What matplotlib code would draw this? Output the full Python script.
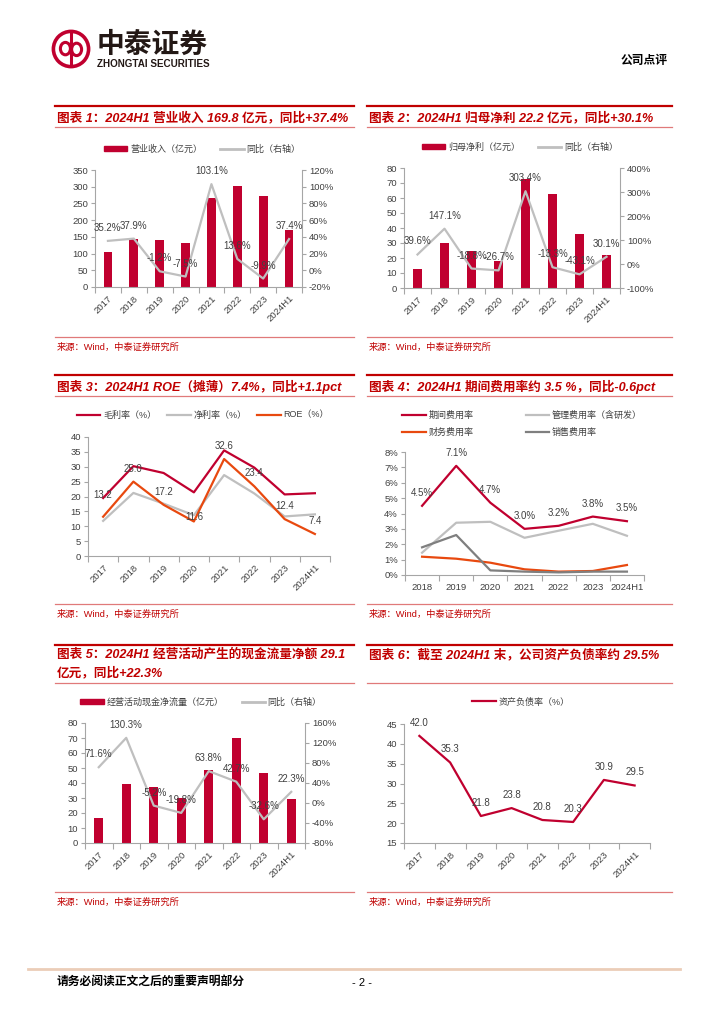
import numpy as np
import matplotlib
matplotlib.use("Agg")
import matplotlib.pyplot as plt
from matplotlib.lines import Line2D
from matplotlib.patches import Circle, Ellipse, Patch
from matplotlib.ticker import FuncFormatter

plt.rcParams["font.family"] = ["Liberation Sans", "Noto Sans CJK SC", "DejaVu Sans"]
plt.rcParams["axes.unicode_minus"] = False

W, H = 724, 1024
RED = "#C0002F"
TITLE_RED = "#C00000"
RULE_PINK = "#E07A7A"
GRAY = "#BFBFBF"
DARK_GRAY = "#7F7F7F"
ORANGE = "#E8490F"
AXIS = "#A6A6A6"
TEXT = "#404040"

# ---- data ----
years8 = ["2017", "2018", "2019", "2020", "2021", "2022", "2023", "2024H1"]
years7 = ["2018", "2019", "2020", "2021", "2022", "2023", "2024H1"]

revenue = [104, 143, 141, 131, 267, 302, 272, 169.8]
revenue_yoy = [35.2, 37.9, -1.2, -7.5, 103.1, 13.6, -9.9, 37.4]

profit = [12.4, 30.2, 24.6, 18.0, 72.6, 62.8, 35.8, 22.2]
profit_yoy = [39.6, 147.1, -18.8, -26.7, 303.4, -13.3, -43.1, 30.1]

gross_margin = [19.5, 30.2, 27.9, 21.4, 35.5, 29.7, 20.7, 21.1]
net_margin = [11.8, 21.2, 17.6, 13.7, 27.2, 21.0, 13.3, 14.0]
roe = [13.2, 25.0, 17.2, 11.6, 32.6, 23.4, 12.4, 7.4]

period_exp = [4.5, 7.1, 4.7, 3.0, 3.2, 3.8, 3.5]
admin_exp = [1.45, 3.4, 3.46, 2.42, 2.88, 3.33, 2.55]
fin_exp = [1.19, 1.06, 0.8, 0.37, 0.22, 0.26, 0.65]
sales_exp = [1.8, 2.6, 0.3, 0.22, 0.17, 0.22, 0.22]

ocf = [17.0, 39.3, 37.3, 30.0, 48.8, 70.0, 47.0, 29.1]
ocf_yoy = [71.6, 130.3, -5.2, -19.8, 63.8, 42.7, -32.6, 22.3]

debt_ratio = [42.0, 35.3, 21.8, 23.8, 20.8, 20.3, 30.9, 29.5]

fig = plt.figure(figsize=(W / 100, H / 100), dpi=100)


def fx(x):
    return x / W


def fy(y):
    return 1 - y / H


def hline(x0, x1, y, color, lw):
    fig.add_artist(Line2D([fx(x0), fx(x1)], [fy(y), fy(y)],
                          transform=fig.transFigure, color=color, lw=lw))


def text(x, y, s, **kw):
    kw.setdefault("va", "center")
    fig.text(fx(x), fy(y), s, **kw)


def add_axes(l, t, r, b):
    return fig.add_axes([fx(l), fy(b), (r - l) / W, (b - t) / H])


def frame(x0, x1, top, titles, bottom, src_y):
    hline(x0, x1, top, TITLE_RED, 1.6)
    for s, y in titles:
        text(x0 + 2, y, s, fontsize=9.1, fontweight="bold", style="italic",
             color=TITLE_RED)
    hline(x0, x1, bottom, RULE_PINK, 0.9)
    hline(x0, x1, src_y, RULE_PINK, 0.9)
    text(x0 + 2, src_y + 10, "来源：Wind，中泰证券研究所", fontsize=6.7,
         color=TITLE_RED)


def pct(v, p):
    return f"{v:.0f}%"


def style(ax, labels, rotate=True):
    for s in ["top", "right"]:
        ax.spines[s].set_visible(False)
    for s in ["left", "bottom"]:
        ax.spines[s].set_color(AXIS)
        ax.spines[s].set_linewidth(0.8)
    n = len(labels)
    ax.set_xlim(-0.5, n - 0.5)
    ax.set_xticks(range(n))
    if rotate:
        ax.set_xticklabels(labels, rotation=45, ha="right",
                           rotation_mode="anchor")
    else:
        ax.set_xticklabels(labels)
    ax.set_xticks(np.arange(-0.5, n), minor=True)
    ax.tick_params(axis="x", which="major", length=0, pad=5,
                   labelsize=6.8, labelcolor=TEXT)
    ax.tick_params(axis="x", which="minor", length=4, width=0.8, color=AXIS)
    ax.tick_params(axis="y", length=3, width=0.8, color=AXIS, labelsize=6.8,
                   labelcolor=TEXT, pad=2)


def twin_style(tw):
    for s in ["top", "left", "bottom"]:
        tw.spines[s].set_visible(False)
    tw.spines["right"].set_color(AXIS)
    tw.spines["right"].set_linewidth(0.8)
    tw.tick_params(axis="y", length=3, width=0.8, color=AXIS, labelsize=6.8,
                   labelcolor=TEXT, pad=2)
    tw.yaxis.set_major_formatter(FuncFormatter(pct))


def point_labels(ax, ys, texts, dys=None):
    if dys is None:
        dys = [13] * len(ys)
    for i, (y, s, d) in enumerate(zip(ys, texts, dys)):
        ax.annotate(s, (i, y), xytext=(0, d * 0.72), textcoords="offset points",
                    ha="center", va="center", fontsize=7, color=TEXT)


def legend(ax, handles, names, cx, cy, ncol, colsp=2.0, rowsp=0.5):
    ax.legend(handles, names, loc="center", bbox_to_anchor=(fx(cx), fy(cy)),
              bbox_transform=fig.transFigure, ncol=ncol, frameon=False,
              fontsize=6.5, handlelength=2.6, handleheight=0.6,
              handletextpad=0.3, columnspacing=colsp, labelspacing=rowsp,
              borderpad=0, labelcolor=TEXT)


def bar_line(box, bars, yoy, blim, bstep, ylim, ystep, bname, lname, leg):
    ax = add_axes(*box)
    x = np.arange(len(bars))
    ax.bar(x, bars, width=0.34, color=RED)
    ax.set_ylim(*blim)
    ax.set_yticks(np.arange(blim[0], blim[1] + 0.1, bstep))
    style(ax, years8)
    tw = ax.twinx()
    tw.plot(x, yoy, color=GRAY, lw=1.6)
    tw.set_ylim(*ylim)
    tw.set_yticks(np.arange(ylim[0], ylim[1] + 0.1, ystep))
    twin_style(tw)
    point_labels(tw, yoy, [f"{v:.1f}%" for v in yoy])
    legend(ax, [Patch(color=RED), Line2D([], [], color=GRAY, lw=2)],
           [bname, lname], leg[0], leg[1], 2)
    return ax


# ---- header ----
lg = fig.add_axes([fx(51), fy(69), 40 / W, 40 / H])
lg.set_xlim(-1, 1)
lg.set_ylim(-1, 1)
lg.set_aspect("equal")
lg.axis("off")
lg.add_patch(Circle((0, 0), 0.88, fill=False, ec=RED, lw=2.6))
lg.add_patch(Ellipse((-0.28, 0.02), 0.5, 0.62, fill=False, ec=RED, lw=2.2))
lg.add_patch(Ellipse((0.28, -0.02), 0.5, 0.62, fill=False, ec=RED, lw=2.2))
lg.plot([0, 0], [-0.78, 0.78], color=RED, lw=2.2)
text(97, 46, "中泰证券", fontsize=20, fontweight="bold", color="#231815")
text(97, 64, "ZHONGTAI SECURITIES", fontsize=7.1, fontweight="bold",
     color="#231815")
text(668, 61, "公司点评", fontsize=8.5, fontweight="bold", color="black",
     ha="right")

# ---- frames ----
LX0, LX1, RX0, RX1 = 55, 354, 367, 672
frame(LX0, LX1, 106, [("图表 1：2024H1 营业收入 169.8 亿元，同比+37.4%", 118)], 127, 337)
frame(RX0, RX1, 106, [("图表 2：2024H1 归母净利 22.2 亿元，同比+30.1%", 118)], 127, 337)
frame(LX0, LX1, 375, [("图表 3：2024H1 ROE（摊薄）7.4%，同比+1.1pct", 387)], 396, 604)
frame(RX0, RX1, 375, [("图表 4：2024H1 期间费用率约 3.5 %，同比-0.6pct", 387)], 396, 604)
frame(LX0, LX1, 645, [("图表 5：2024H1 经营活动产生的现金流量净额 29.1", 655),
                      ("亿元，同比+22.3%", 673)], 683, 892)
frame(RX0, RX1, 645, [("图表 6：截至 2024H1 末，公司资产负债率约 29.5%", 655)], 683, 892)

# ---- chart 1 ----
bar_line((95, 170, 302, 287), revenue, revenue_yoy, (0, 350), 50, (-20, 120), 20,
         "营业收入（亿元）", "同比（右轴）", (202, 149))

# ---- chart 2 ----
bar_line((404, 168, 620, 288), profit, profit_yoy, (0, 80), 10, (-100, 400), 100,
         "归母净利（亿元）", "同比（右轴）", (520, 147))

# ---- chart 3 ----
ax3 = add_axes(88, 437, 330, 556)
x8 = np.arange(len(years8))
l1, = ax3.plot(x8, gross_margin, color=RED, lw=1.6)
l2, = ax3.plot(x8, net_margin, color=GRAY, lw=1.6)
l3, = ax3.plot(x8, roe, color=ORANGE, lw=1.6)
ax3.set_ylim(0, 40)
ax3.set_yticks(np.arange(0, 41, 5))
style(ax3, years8)
point_labels(ax3, roe, [f"{v:.1f}" for v in roe], [22, 13, 13, 4, 13, 13, 13, 13])
legend(ax3, [l1, l2, l3], ["毛利率（%）", "净利率（%）", "ROE（%）"], 203, 415, 3,
       colsp=1.2)

# ---- chart 4 ----
ax4 = add_axes(405, 452, 644, 575)
x7 = np.arange(len(years7))
m1, = ax4.plot(x7, period_exp, color=RED, lw=1.6)
m2, = ax4.plot(x7, admin_exp, color=GRAY, lw=1.6)
m3, = ax4.plot(x7, fin_exp, color=ORANGE, lw=1.6)
m4, = ax4.plot(x7, sales_exp, color=DARK_GRAY, lw=1.6)
ax4.set_ylim(0, 8)
ax4.set_yticks(np.arange(0, 8.1, 1))
ax4.yaxis.set_major_formatter(FuncFormatter(pct))
style(ax4, years7, rotate=False)
ax4.tick_params(axis="x", which="major", pad=6)
point_labels(ax4, period_exp, [f"{v:.1f}%" for v in period_exp])
legend(ax4, [m1, m3, m2, m4], ["期间费用率", "财务费用率", "管理费用率（含研发）", "销售费用率"],
       522, 424, 2, colsp=5.8, rowsp=0.9)

# ---- chart 5 ----
bar_line((85, 723, 305, 843), ocf, ocf_yoy, (0, 80), 10, (-80, 160), 40,
         "经营活动现金净流量（亿元）", "同比（右轴）", (201, 702))

# ---- chart 6 ----
ax6 = add_axes(404, 724, 650, 843)
d1, = ax6.plot(x8, debt_ratio, color=RED, lw=1.6)
ax6.set_ylim(15, 45)
ax6.set_yticks(np.arange(15, 46, 5))
style(ax6, years8)
point_labels(ax6, debt_ratio, [f"{v:.1f}" for v in debt_ratio])
legend(ax6, [d1], ["资产负债率（%）"], 521, 702, 1)

# ---- footer ----
hline(28, 680, 969, "#EBCDB8", 2.0)
text(57, 983, "请务必阅读正文之后的重要声明部分", fontsize=8.5, fontweight="bold",
     color="black")
text(362, 983, "- 2 -", fontsize=8, color="black", ha="center")

fig.savefig("out.png", dpi=100)
